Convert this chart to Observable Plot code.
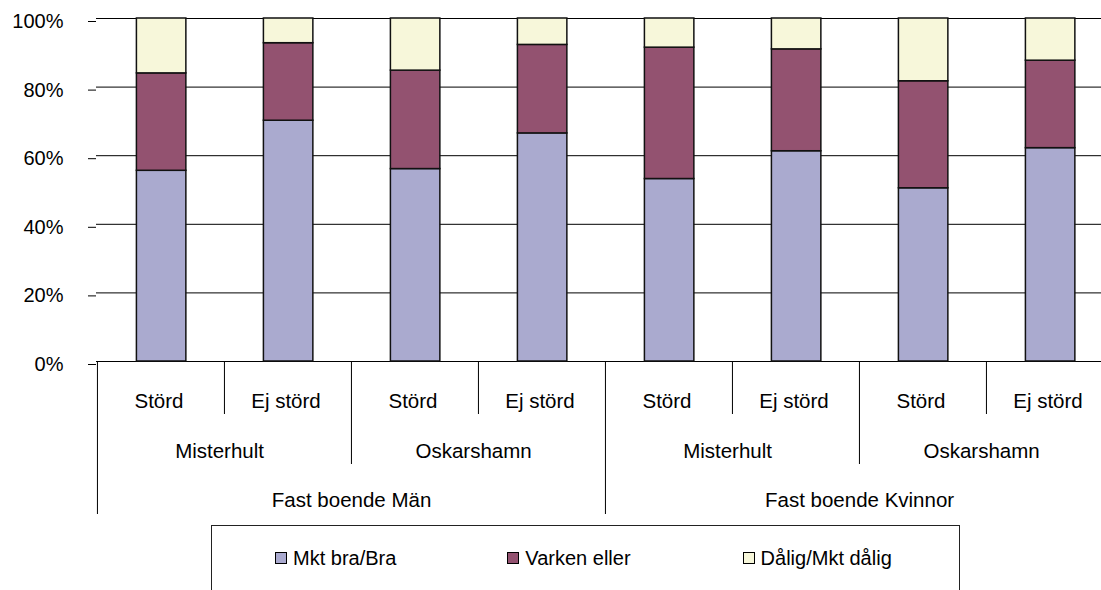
<!DOCTYPE html>
<html>
<head>
<meta charset="utf-8">
<script src="https://cdn.jsdelivr.net/npm/d3@7"></script>
<script src="https://cdn.jsdelivr.net/npm/@observablehq/plot@0.6"></script>
<style>
  html, body { margin: 0; padding: 0; background: #fff; overflow: hidden; }
  body { width: 1101px; height: 590px; position: relative; font-family: "Liberation Sans", Arial, sans-serif; }
  #legend {
    position: absolute; left: 211px; top: 525px; width: 749px; height: 90px;
    border: 1px solid #222; box-sizing: border-box;
    display: flex; align-items: flex-start; padding-left: 63px; padding-top: 20px;
    font-size: 20px; color: #000;
  }
  .item { display: flex; align-items: center; height: 24px; }
  .sw { width: 10px; height: 10px; border: 1px solid #000; margin-right: 6px; }
</style>
</head>
<body>
<div id="chart"></div>
<div id="legend"></div>
<script>
// ---- data ----
const groups = ["Fast boende Män", "Fast boende Kvinnor"];
const places = ["Misterhult", "Oskarshamn"];
const statuses = ["Störd", "Ej störd"];
const seriesNames = ["Mkt bra/Bra", "Varken eller", "Dålig/Mkt dålig"];
const seriesColors = ["#AAAACF", "#935270", "#F7F7DA"];
// percentage per category, order: Män-Misterhult-Störd, Män-Misterhult-Ej störd, Män-Oskarshamn-Störd, ...
const bra    = [55.6, 70.2, 56.1, 66.5, 53.2, 61.3, 50.5, 62.2];
const varken = [28.4, 22.6, 28.7, 25.8, 38.3, 29.7, 31.2, 25.5];
const dalig  = [16.0,  7.2, 15.2,  7.7,  8.5,  9.0, 18.3, 12.3];
const yTicks = [0, 20, 40, 60, 80, 100];

// ---- derived tables ----
const cats = [];
groups.forEach(g => places.forEach(p => statuses.forEach(s => cats.push({key: `${g}|${p}|${s}`, g, p, s}))));
const keys = cats.map(c => c.key);
const seriesVals = [bra, varken, dalig];
const rows = [];
seriesNames.forEach((name, si) => keys.forEach((k, i) => rows.push({cat: k, series: name, value: seriesVals[si][i]})));

// boundaries (category whose left edge carries a separator)
const lvl1Bounds = cats.filter((c, i) => i % 2 === 1).map(c => c.key);
const lvl2Bounds = cats.filter((c, i) => i % 4 === 2).map(c => c.key);
const lvl3Bounds = cats.filter((c, i) => i % 4 === 0).map(c => c.key);
const placeLabels = cats.filter((c, i) => i % 2 === 0);   // label sits at right edge of this band
const groupLabels = cats.filter((c, i) => i % 4 === 1);

// ---- layout ----
const W = 1101, H = 525;
const x0 = 96, x1 = 1113;
const bw = (x1 - x0) / keys.length;
const font = '"Liberation Sans", Arial, sans-serif';

const chart = Plot.plot({
  width: W, height: H,
  marginTop: 18, marginBottom: 164, marginLeft: x0, marginRight: 0,
  style: {fontFamily: font, fontSize: "20px", color: "#000", background: "#fff"},
  x: {type: "band", domain: keys, range: [x0, x1], padding: 0, axis: null},
  y: {domain: [0, 100], axis: null},
  color: {domain: seriesNames, range: seriesColors},
  marks: [
    Plot.ruleY(yTicks, {stroke: "#000", strokeWidth: 1}),
    Plot.barY(rows, {x: "cat", y: "value", fill: "series", stroke: "#111", strokeWidth: 1.5,
      insetLeft: bw * 0.31, insetRight: bw * 0.3}),
    Plot.axisY({ticks: yTicks, tickFormat: d => d + "%", tickSize: 8, tickPadding: 25,
      line: true, stroke: "#000", fontSize: 20, dy: 3, label: null}),
    // separators
    Plot.ruleX(lvl1Bounds, {x: d => d, y1: 0, y2: 0, insetBottom: -53, dx: -bw / 2, stroke: "#000"}),
    Plot.ruleX(lvl2Bounds, {x: d => d, y1: 0, y2: 0, insetBottom: -103, dx: -bw / 2, stroke: "#000"}),
    Plot.ruleX(lvl3Bounds, {x: d => d, y1: 0, y2: 0, insetBottom: -153, dx: -bw / 2, stroke: "#000"}),
    // labels
    Plot.text(cats, {x: "key", y: 0, text: "s", dy: 40, dx: -2, fontSize: 20.5, fill: "#000"}),
    Plot.text(placeLabels, {x: "key", y: 0, text: "p", dy: 89.5, dx: bw / 2 - 5, fontSize: 20.5, fill: "#000"}),
    Plot.text(groupLabels, {x: "key", y: 0, text: "g", dy: 139, dx: bw / 2, fontSize: 20.5, fill: "#000"})
  ]
});
document.getElementById("chart").appendChild(chart);

// ---- legend ----
const legend = document.getElementById("legend");
const gaps = [0, 111, 112];
seriesNames.forEach((name, i) => {
  const it = document.createElement("div");
  it.className = "item";
  it.style.marginLeft = gaps[i] + "px";
  const sw = document.createElement("span");
  sw.className = "sw";
  sw.style.background = seriesColors[i];
  const t = document.createElement("span");
  t.textContent = name;
  it.appendChild(sw); it.appendChild(t);
  legend.appendChild(it);
});
</script>
</body>
</html>
